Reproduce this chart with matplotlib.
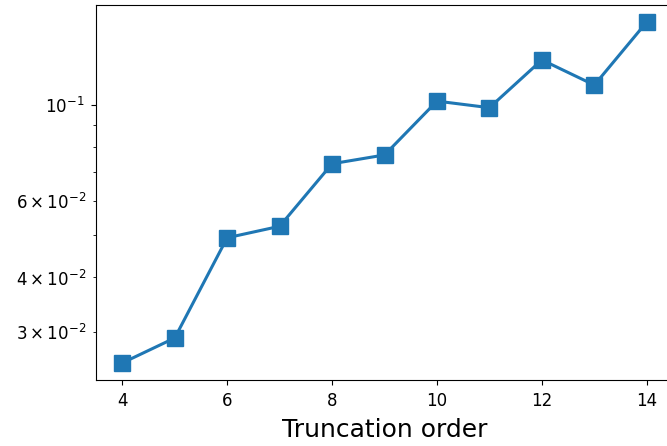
import matplotlib
matplotlib.use("Agg")
import matplotlib.pyplot as plt
import numpy as np

# truncation orders and values
orders = np.arange(4, 15)
values = np.array([0.0254, 0.0290, 0.0494, 0.0525, 0.0732, 0.0767,
                   0.1021, 0.0986, 0.1271, 0.1112, 0.1555])

fig = plt.figure(figsize=(6.67, 4.46), dpi=100)
# axes runs slightly past the right edge, as in the reference
ax = fig.add_axes([0.144, 0.148, 0.865, 0.841])

ax.plot(orders, values, color='#1f77b4', marker='s', markersize=11, linewidth=2.2)
ax.set_yscale('log')
ax.set_xticks([4, 6, 8, 10, 12, 14])
ax.tick_params(which='both', labelsize=12, pad=5)
ax.set_xlabel('Truncation order', fontsize=18, labelpad=6)

fig.savefig('out.png', dpi=100)
